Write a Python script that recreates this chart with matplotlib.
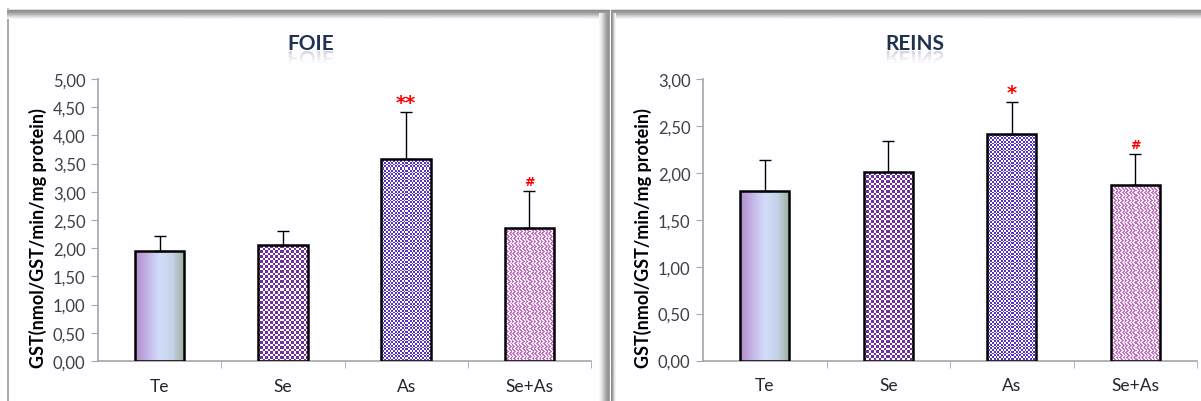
import numpy as np
import matplotlib
matplotlib.use("Agg")
import matplotlib.pyplot as plt
from matplotlib.colors import LinearSegmentedColormap, to_rgb
from matplotlib.textpath import TextPath
from matplotlib.patches import PathPatch
from matplotlib.font_manager import FontProperties
from matplotlib.transforms import Affine2D

# --- data ---
groups = ["Te", "Se", "As", "Se+As"]
foie_mean = [1.95, 2.06, 3.59, 2.35]
foie_err = [0.26, 0.25, 0.83, 0.66]
foie_marks = ["", "", "**", "#"]
reins_mean = [1.81, 2.01, 2.41, 1.87]
reins_err = [0.33, 0.33, 0.34, 0.33]
reins_marks = ["", "", "*", "#"]
foie_ticks = [0.0, 0.5, 1.0, 1.5, 2.0, 2.5, 3.0, 3.5, 4.0, 4.5, 5.0]
reins_ticks = [0.0, 0.5, 1.0, 1.5, 2.0, 2.5, 3.0]
ylabel = "GST(nmol/GST/min/mg protein)"

W, H = 1201, 402
FONT = ["Lato", "DejaVu Sans"]
plt.rcParams['font.family'] = FONT

grad_cmap = LinearSegmentedColormap.from_list(
    "te", ["#b08ccc", "#c4b4e6", "#d2dcfa", "#c4d2e8", "#9cae9c"])


def texture(kind, h, w):
    yy, xx = np.mgrid[0:h, 0:w] + 0.5
    img = np.ones((h, w, 3))
    if kind == "grad":
        img[:] = grad_cmap(xx / w)[..., :3]
        return img
    if kind == "checker":
        m = (np.floor(xx / 2.5) + np.floor(yy / 2.5)) % 2 == 0
        col = to_rgb("#7030a0")
    elif kind == "fine":
        m = (np.floor(xx / 1.75) + np.floor(yy / 1.75)) % 2 == 0
        col = to_rgb("#5533c8")
    else:
        zig = np.abs((yy % 5) - 2.5)
        m = ((xx + zig * 1.2 + np.floor(yy / 5) * 3 + np.floor(xx / 7)) % 4) < 2
        col = to_rgb("#c070c0")
    img[m] = col
    img[~m] = to_rgb("#fbf2fb") if kind == "wave" else (1, 1, 1)
    return img


kinds = ["grad", "checker", "fine", "wave"]

fig = plt.figure(figsize=(W / 100, H / 100), dpi=100)

# panel frames drawn in pixel coordinates
bg = fig.add_axes([0, 0, 1, 1], zorder=0)
bg.axis("off")
bg.add_patch(plt.Rectangle((7, 10), 603, H - 10, facecolor="#fefdff", edgecolor="none", zorder=1))
bg.add_patch(plt.Rectangle((611, 10), W - 611, H - 10, facecolor="#fefdff", edgecolor="none", zorder=1))
bg.plot([7.5, 7.5], [10, H], color="#9a9a9a", lw=1.2, zorder=3)
top_band = np.array([0.86, 0.56, 0.58, 0.62, 0.67, 0.72, 0.78, 0.85, 0.91, 0.96])
for xa, xb in [(7, 610), (611, W)]:
    bg.imshow(np.repeat(top_band[:, None], 3, axis=1), cmap="gray", vmin=0, vmax=1,
              extent=(xa, xb, 20, 10), aspect="auto", interpolation="bilinear", zorder=3)
right_edge = np.array([0.97, 0.94, 0.9, 0.85, 0.8, 0.74, 0.68, 0.63, 0.6, 0.58, 0.62])
bg.imshow(right_edge[None, :], cmap="gray", vmin=0, vmax=1,
          extent=(599, 610, H, 14), aspect="auto", interpolation="bilinear", zorder=3)
left_edge = np.array([0.55, 0.62, 0.76, 0.88, 0.96])
bg.imshow(left_edge[None, :], cmap="gray", vmin=0, vmax=1,
          extent=(611, 616, H, 14), aspect="auto", interpolation="bilinear", zorder=3)
bg.set_xlim(0, W)
bg.set_ylim(H, 0)

title_font = FontProperties(family="Lato", weight="bold")


def title_reflection(title, cx, base_y):
    # mirrored copy of the title under its baseline (bg has y pointing down)
    tp = TextPath((0, 0), title, size=20.8, prop=title_font)
    ext = tp.get_extents()
    tp = Affine2D().translate(cx - ext.width / 2 - ext.x0, base_y + 2).transform_path(tp)
    for k, a in enumerate([0.18, 0.12, 0.07, 0.03]):
        p = PathPatch(tp, facecolor="#1f3350", edgecolor="none", alpha=a, zorder=2)
        clip = plt.Rectangle((cx - 60, base_y + 2 + 3 * k), 120, 3, transform=bg.transData)
        bg.add_patch(p)
        p.set_clip_path(clip)


def panel(rect_px, title, title_x, label_x, means, errs, marks, ticks):
    x0, y0, x1, y1 = rect_px
    ax = fig.add_axes([x0 / W, 1 - y1 / H, (x1 - x0) / W, (y1 - y0) / H], zorder=2)
    ax.patch.set_alpha(0)
    ymax = ticks[-1]
    x = np.arange(len(groups)) + 0.5
    bars = ax.bar(x, means, width=0.4, facecolor="none", edgecolor="black",
                  linewidth=1.8, zorder=3)
    hpx = int(round(y1 - y0))
    wpx = int(round(0.4 * (x1 - x0) / len(groups)))
    for b, kind in zip(bars, kinds):
        im = ax.imshow(texture(kind, hpx, wpx), extent=(b.get_x(), b.get_x() + b.get_width(), 0, ymax),
                       aspect="auto", interpolation="nearest", zorder=2)
        im.set_clip_path(b)
    ax.errorbar(x, means, yerr=[np.zeros(len(means)), errs], fmt="none",
                ecolor="black", elinewidth=1, capsize=4, capthick=1, zorder=4)
    for xi, m, e, mk in zip(x, means, errs, marks):
        if mk:
            ax.annotate(mk, (xi, m + e), xytext=(0, 0 if mk != "#" else 2), textcoords="offset points",
                        ha="center", va="bottom", color="red", fontweight="bold",
                        family="DejaVu Sans", fontsize=14 if mk != "#" else 9)
    ax.set_xlim(0, len(groups))
    ax.set_ylim(0, ymax)
    ax.set_yticks(ticks)
    ax.set_yticklabels([f"{t:.2f}".replace(".", ",") for t in ticks])
    ax.set_xticks(x)
    ax.set_xticklabels(groups)
    ax.set_xticks(np.arange(1, len(groups) + 1), minor=True)
    ax.tick_params(axis="x", which="major", length=0, pad=12, labelsize=12.5, labelcolor="#262626")
    ax.tick_params(axis="x", which="minor", length=5, color="#a6a6a6")
    ax.tick_params(axis="y", length=5, color="#a6a6a6", labelsize=12, labelcolor="#404040", pad=4)
    for s in ["top", "right"]:
        ax.spines[s].set_visible(False)
    for s in ["left", "bottom"]:
        ax.spines[s].set_color("#a6a6a6")
        ax.spines[s].set_linewidth(1.2)
    fig.text(title_x / W, 1 - 50 / H, title, ha="center", va="baseline",
             fontsize=15, fontweight="bold", color="#1f3350")
    title_reflection(title, title_x, 50)
    fig.text(label_x / W, 1 - 238 / H, ylabel, rotation=90, ha="center", va="center",
             fontsize=13, fontweight="bold", color="black")
    return ax


panel((98, 80, 591, 362), "FOIE", 311, 38, foie_mean, foie_err, foie_marks, foie_ticks)
panel((703, 80, 1197, 361.5), "REINS", 915, 643, reins_mean, reins_err, reins_marks, reins_ticks)

fig.savefig("out.png", dpi=100)
